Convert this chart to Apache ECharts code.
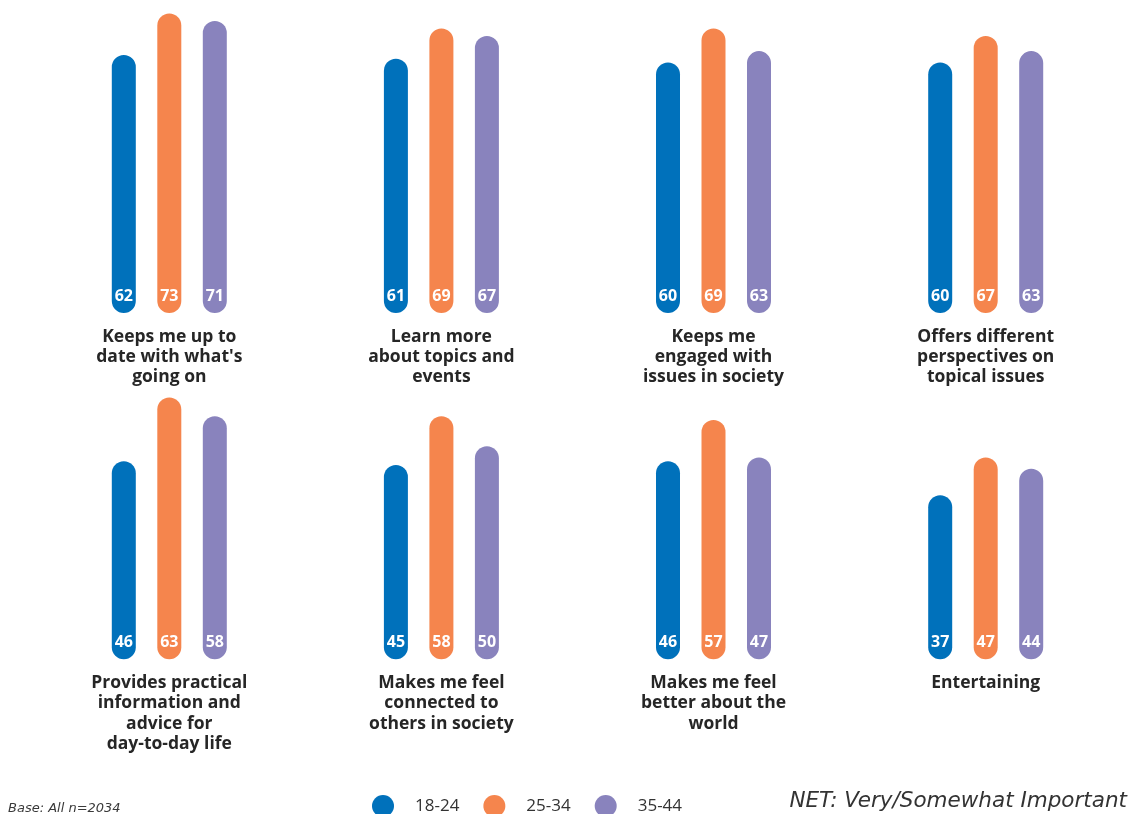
<!DOCTYPE html>
<html>
<head>
<meta charset="utf-8">
<title>Why news matters, by age group</title>
<script src="https://cdn.jsdelivr.net/npm/echarts@6/dist/echarts.min.js"></script>
<style>
  html, body { margin: 0; padding: 0; background: #ffffff; }
  #chart { width: 1130px; height: 814px; }
</style>
</head>
<body>
<div id="chart"></div>
<script>
// Age groups (legend entries / bars within each panel)
const ageGroups = ['18-24', '25-34', '35-44'];

// Panel titles, one per small multiple
const reasons = [
  "Keeps me up to\ndate with what's\ngoing on",
  'Learn more\nabout topics and\nevents',
  'Keeps me\nengaged with\nissues in society',
  'Offers different\nperspectives on\ntopical issues',
  'Provides practical\ninformation and\nadvice for\nday-to-day life',
  'Makes me feel\nconnected to\nothers in society',
  'Makes me feel\nbetter about the\nworld',
  'Entertaining'
];

// % saying very/somewhat important, per reason
const age18to24 = [62, 61, 60, 60, 46, 45, 46, 37];
const age25to34 = [73, 69, 69, 67, 63, 58, 57, 47];
const age35to44 = [71, 67, 63, 63, 58, 50, 47, 44];

const seriesValues = [age18to24, age25to34, age35to44];
const colors = ['#0071BB', '#F5854D', '#8983BD'];

const FONT = '"Open Sans", "DejaVu Sans", sans-serif';
const NOTE_FONT = '"DejaVu Sans", sans-serif';
const BAR_W = 24;          // pill width
const LABEL_PAD = 25;      // pill extends below zero to hold the value label
const VALUE_MAX = 76;
const PLOT_H = 285.76;     // px height of the value range 0..VALUE_MAX
const COL_CENTERS = [169.3, 441.4, 713.5, 985.7];
const ROW_TOPS = [2.24, 348.54];
const GRID_W = 136.5;

function renderPill(params, api) {
  const cat = api.value(0);
  const val = api.value(1);
  const top = api.coord([cat, val]);
  const zero = api.coord([cat, 0]);
  const bottom = zero[1] + LABEL_PAD;
  return {
    type: 'group',
    children: [
      {
        type: 'rect',
        shape: { x: top[0] - BAR_W / 2, y: top[1], width: BAR_W, height: bottom - top[1], r: BAR_W / 2 },
        style: { fill: api.visual('color') }
      },
      {
        type: 'text',
        style: {
          text: String(val),
          x: top[0],
          y: zero[1] + 8,
          align: 'center',
          verticalAlign: 'middle',
          fill: '#ffffff',
          fontFamily: FONT,
          fontWeight: 'bold',
          fontSize: 16
        }
      }
    ]
  };
}

const grids = [], xAxes = [], yAxes = [], series = [];
reasons.forEach((reason, i) => {
  const col = i % 4, row = Math.floor(i / 4);
  grids.push({
    left: COL_CENTERS[col] - GRID_W / 2,
    top: ROW_TOPS[row],
    width: GRID_W,
    height: PLOT_H,
    containLabel: false
  });
  xAxes.push({
    type: 'category',
    gridIndex: i,
    data: ageGroups,
    boundaryGap: true,
    axisLine: { show: false },
    axisTick: { show: false },
    axisLabel: { show: false },
    splitLine: { show: false },
    name: reason,
    nameLocation: 'middle',
    nameGap: 38.6,
    nameTextStyle: {
      fontFamily: FONT,
      fontWeight: 'bold',
      fontSize: 17.5,
      lineHeight: 20.3,
      color: '#262626',
      align: 'center',
      verticalAlign: 'top'
    }
  });
  yAxes.push({
    type: 'value',
    gridIndex: i,
    min: 0,
    max: VALUE_MAX,
    show: false,
    splitLine: { show: false }
  });
  ageGroups.forEach((age, j) => {
    series.push({
      type: 'custom',
      name: age,
      xAxisIndex: i,
      yAxisIndex: i,
      itemStyle: { color: colors[j] },
      renderItem: renderPill,
      encode: { x: 0, y: 1 },
      data: [[j, seriesValues[j][i]]],
      silent: true
    });
  });
});

const chart = echarts.init(document.getElementById('chart'), null, { renderer: 'canvas' });
chart.setOption({
  backgroundColor: '#ffffff',
  animation: false,
  grid: grids,
  xAxis: xAxes,
  yAxis: yAxes,
  legend: {
    data: ageGroups.map((name) => ({ name, icon: 'circle' })),
    left: 367,
    top: 790,
    itemWidth: 22,
    itemHeight: 22,
    itemGap: 24,
    selectedMode: false,
    textStyle: {
      fontFamily: FONT,
      fontSize: 17,
      color: '#333333',
      padding: [0, 0, 0, 16]
    }
  },
  graphic: [
    {
      type: 'text',
      left: 8,
      top: 802,
      style: {
        text: 'Base: All n=2034',
        fontFamily: NOTE_FONT,
        fontStyle: 'italic',
        fontSize: 13,
        fill: '#3a3a3a'
      }
    },
    {
      type: 'text',
      right: 3,
      top: 790,
      style: {
        text: 'NET: Very/Somewhat Important',
        fontFamily: NOTE_FONT,
        fontStyle: 'italic',
        fontSize: 21.5,
        fill: '#333333'
      }
    }
  ],
  series: series
});
</script>
</body>
</html>
